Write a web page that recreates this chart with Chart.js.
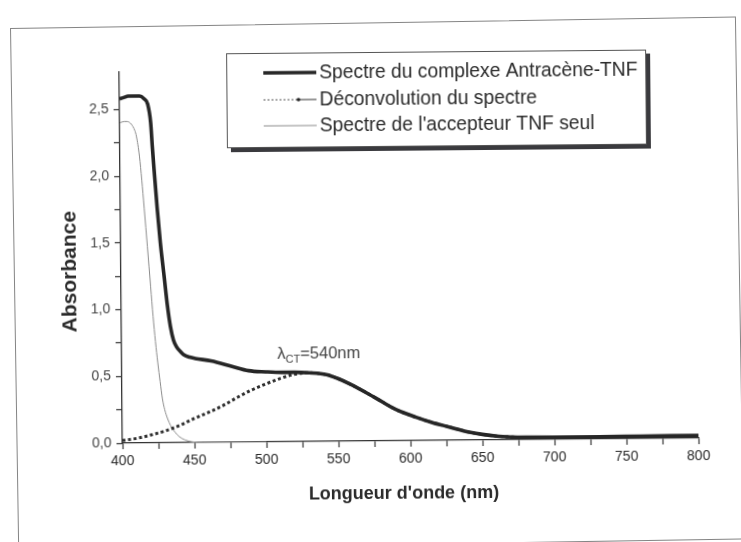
<!DOCTYPE html>
<html>
<head>
<meta charset="utf-8">
<title>Spectre du complexe Antracène-TNF</title>
<script src="https://cdn.jsdelivr.net/npm/chart.js@4/dist/chart.umd.min.js"></script>
<style>
  html, body { margin: 0; padding: 0; background: #fff; overflow: hidden; }
  #page { position: relative; width: 741px; height: 542px; overflow: hidden; background: #fff; }
  #frame {
    position: absolute; left: 9.5px; top: 28px; width: 726px; height: 523px;
    border: 1.5px solid #858585; box-sizing: border-box;
    transform-origin: 0 0; transform: rotate(-0.9deg);
  }
  #wrap {
    position: absolute; left: 0; top: 0; width: 741px; height: 542px;
    transform: rotate(-0.5deg);
  }
  canvas { display: block; }
</style>
</head>
<body>
<div id="page">
  <div id="frame"></div>
  <div id="wrap"><canvas id="chart" width="741" height="542"></canvas></div>
</div>
<script>
// Absorption spectrum of the anthracene-TNF complex (thick line)
const complexNm  = [400, 403, 406, 410, 414, 417, 419.5, 421.5, 422.5, 423.5, 425.5, 427.5, 430, 432, 434, 436, 438, 441, 443.5, 447, 451, 462, 476, 488, 500, 511, 520, 530, 542, 550, 558, 570, 581, 590, 604, 615, 627, 640, 650, 660, 670, 680, 700, 730, 760, 800];
const complexAbs = [2.58, 2.59, 2.60, 2.60, 2.60, 2.58, 2.54, 2.40, 2.22, 2.06, 1.76, 1.50, 1.24, 1.03, 0.87, 0.77, 0.72, 0.68, 0.655, 0.64, 0.63, 0.61, 0.57, 0.535, 0.525, 0.52, 0.52, 0.515, 0.50, 0.47, 0.43, 0.36, 0.29, 0.235, 0.175, 0.135, 0.10, 0.062, 0.042, 0.028, 0.021, 0.018, 0.017, 0.017, 0.019, 0.021];

// Deconvoluted charge-transfer band (dotted line)
const deconvNm  = [400, 410, 420, 430, 440, 450, 460, 470, 480, 490, 500, 510, 520, 530, 542, 550, 558, 570, 581, 590, 604, 615, 627, 640, 650, 660, 670, 680, 700];
const deconvAbs = [0.02, 0.035, 0.06, 0.09, 0.13, 0.18, 0.225, 0.275, 0.335, 0.39, 0.435, 0.475, 0.505, 0.515, 0.50, 0.47, 0.43, 0.36, 0.29, 0.235, 0.175, 0.135, 0.10, 0.062, 0.042, 0.028, 0.021, 0.018, 0.017];

// Absorption of the TNF acceptor alone (thin line)
const tnfNm  = [400, 403, 405, 408, 410.5, 411.5, 413.5, 415, 416.5, 418.5, 420.5, 422, 423.5, 425, 426.5, 428, 429.5, 431.5, 433.5, 436.5, 439.5, 443.5, 448.5, 456, 500];
const tnfAbs = [2.40, 2.41, 2.41, 2.39, 2.34, 2.30, 2.15, 1.97, 1.76, 1.47, 1.17, 0.95, 0.76, 0.60, 0.46, 0.33, 0.25, 0.18, 0.13, 0.08, 0.045, 0.02, 0.005, 0.0, 0.0];

const seriesNames = [
  "Spectre du complexe Antracène-TNF",
  "Déconvolution du spectre",
  "Spectre de l'accepteur TNF seul"
];
const xLabelValues = [400, 450, 500, 550, 600, 650, 700, 750, 800];
const yLabelValues = [0, 0.5, 1.0, 1.5, 2.0, 2.5];
const xTitle = "Longueur d'onde (nm)";
const yTitle = "Absorbance";

const FONT = '"Liberation Sans", Arial, sans-serif';
const INK = '#2a2a2a';

const toPoints = (xs, ys) => xs.map((v, i) => ({ x: v, y: ys[i] }));
const isLabelled = (list, v) => list.some(l => Math.abs(l - v) < 1e-6);

// Legend box, axis titles and the lambda_CT note
const decor = {
  id: 'decor',
  afterDraw(chart) {
    const { ctx, chartArea: a, scales: { x, y } } = chart;
    ctx.save();

    // axis titles
    ctx.fillStyle = INK;
    ctx.textAlign = 'center';
    ctx.textBaseline = 'middle';
    ctx.font = 'bold 18px ' + FONT;
    ctx.fillText(xTitle, a.left + 281, a.bottom + 53);
    ctx.save();
    ctx.font = 'bold 21px ' + FONT;
    ctx.translate(a.left - 51, a.top + 199);
    ctx.rotate(-Math.PI / 2);
    ctx.fillText(yTitle, 0, 0);
    ctx.restore();

    // lambda_CT note
    const nx = x.getPixelForValue(508);
    const ny = y.getPixelForValue(0.62);
    ctx.fillStyle = '#444';
    ctx.textAlign = 'left';
    ctx.textBaseline = 'alphabetic';
    ctx.font = '16.5px ' + FONT;
    ctx.fillText('\u03bb', nx, ny);
    let cx = nx + ctx.measureText('\u03bb').width;
    ctx.font = '11px ' + FONT;
    ctx.fillText('CT', cx, ny + 4);
    cx += ctx.measureText('CT').width;
    ctx.font = '16.5px ' + FONT;
    ctx.fillText('=540nm', cx, ny);

    // legend frame with drop shadow
    const bx = 228, by = 52, bw = 420, bh = 95;
    ctx.fillStyle = '#3a3a3e';
    ctx.fillRect(bx + 4, by + 4, bw, bh);
    ctx.fillStyle = '#fff';
    ctx.fillRect(bx, by, bw, bh);
    ctx.strokeStyle = '#555';
    ctx.lineWidth = 1;
    ctx.strokeRect(bx + 0.5, by + 0.5, bw - 1, bh - 1);

    const rows = [72, 99, 125];
    const sx0 = 265, sx1 = 318;
    const ds = chart.data.datasets;

    // row 1: thick solid
    ctx.strokeStyle = ds[0].borderColor;
    ctx.lineWidth = ds[0].borderWidth;
    ctx.beginPath(); ctx.moveTo(sx0, rows[0]); ctx.lineTo(sx1, rows[0]); ctx.stroke();

    // row 2: dotted lead-in, point, solid tail
    ctx.strokeStyle = '#555';
    ctx.lineWidth = 1;
    ctx.setLineDash([2, 2]);
    ctx.beginPath(); ctx.moveTo(sx0, rows[1]); ctx.lineTo(sx0 + 33, rows[1]); ctx.stroke();
    ctx.setLineDash([]);
    ctx.strokeStyle = '#333';
    ctx.beginPath(); ctx.moveTo(sx0 + 33, rows[1]); ctx.lineTo(sx1, rows[1]); ctx.stroke();
    ctx.fillStyle = '#222';
    ctx.beginPath(); ctx.arc(sx0 + 35, rows[1], 1.8, 0, Math.PI * 2); ctx.fill();

    // row 3: thin line
    ctx.strokeStyle = ds[2].borderColor;
    ctx.lineWidth = 1;
    ctx.beginPath(); ctx.moveTo(sx0, rows[2]); ctx.lineTo(sx1, rows[2]); ctx.stroke();

    ctx.fillStyle = INK;
    ctx.font = '19.3px ' + FONT;
    ctx.textBaseline = 'middle';
    seriesNames.forEach((name, i) => ctx.fillText(name, 321, rows[i] + 1));

    ctx.restore();
  }
};

new Chart(document.getElementById('chart'), {
  type: 'line',
  data: {
    datasets: [
      {
        label: seriesNames[0],
        data: toPoints(complexNm, complexAbs),
        borderColor: '#262626',
        borderWidth: 3.6,
        pointRadius: 0,
        cubicInterpolationMode: 'monotone'
      },
      {
        label: seriesNames[1],
        data: toPoints(deconvNm, deconvAbs),
        borderColor: '#2e2e2e',
        borderWidth: 3,
        borderDash: [3, 2.6],
        pointRadius: 0,
        cubicInterpolationMode: 'monotone'
      },
      {
        label: seriesNames[2],
        data: toPoints(tnfNm, tnfAbs),
        borderColor: '#8c8c8c',
        borderWidth: 1,
        pointRadius: 0,
        cubicInterpolationMode: 'monotone'
      }
    ]
  },
  options: {
    responsive: false,
    animation: false,
    devicePixelRatio: 1,
    layout: { padding: { left: 0, top: 70, right: 44, bottom: 0 } },
    plugins: { legend: { display: false }, tooltip: { enabled: false } },
    scales: {
      x: {
        type: 'linear',
        min: 400,
        max: 800,
        afterFit: s => { s.height = 101; },
        border: { display: true, color: '#333', width: 1.3 },
        grid: { display: true, drawOnChartArea: false, drawTicks: true, tickLength: 6, tickColor: '#333', tickWidth: 1.2 },
        ticks: {
          stepSize: 25,
          autoSkip: false,
          maxRotation: 0,
          padding: 4,
          color: INK,
          font: { family: FONT, size: 14 },
          callback: v => isLabelled(xLabelValues, v) ? String(v) : ''
        }
      },
      y: {
        type: 'linear',
        min: 0,
        max: 2.78,
        afterFit: s => { s.width = 121; },
        afterBuildTicks: s => {
          s.ticks = s.ticks.filter(t => Math.abs(t.value / 0.25 - Math.round(t.value / 0.25)) < 1e-6);
        },
        border: { display: true, color: '#333', width: 1.3 },
        grid: { display: true, drawOnChartArea: false, drawTicks: true, tickLength: 6, tickColor: '#333', tickWidth: 1.2 },
        ticks: {
          stepSize: 0.25,
          autoSkip: false,
          padding: 5,
          color: '#444',
          font: { family: FONT, size: 14 },
          callback: v => isLabelled(yLabelValues, v) ? v.toFixed(1).replace('.', ',') : ''
        }
      }
    }
  },
  plugins: [decor]
});
</script>
</body>
</html>
